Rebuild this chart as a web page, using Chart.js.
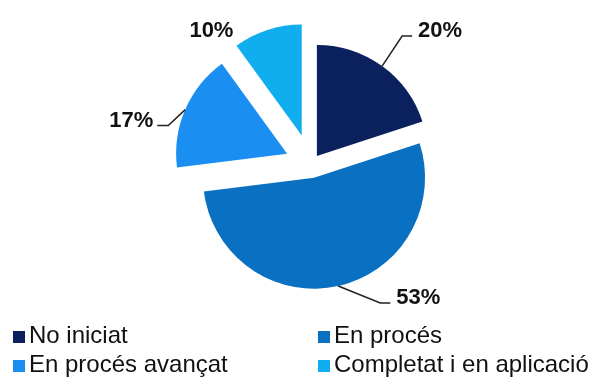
<!DOCTYPE html>
<html>
<head>
<meta charset="utf-8">
<script src="https://cdn.jsdelivr.net/npm/chart.js@4.4.1/dist/chart.umd.min.js"></script>
<style>
  html, body { margin: 0; padding: 0; background: #fff; }
  #wrap { position: relative; width: 592px; height: 381px; overflow: hidden; }
  #chart { position: absolute; left: 0; top: 0; }
  #legend {
    position: absolute; left: 13px; top: 320px;
    display: grid; grid-template-columns: 305px auto;
    font: 24px "Liberation Sans", Arial, sans-serif; line-height: 29px; color: #111;
    white-space: nowrap;
  }
  #legend .sw { display: inline-block; width: 12px; height: 12px; margin-right: 4px; }
</style>
</head>
<body>
<div id="wrap">
  <canvas id="chart" width="592" height="381"></canvas>
  <div id="legend"></div>
</div>
<script>
// chart data
const categories = ['No iniciat', 'En procés', 'En procés avançat', 'Completat i en aplicació'];
const shares = [20, 53, 17, 10];
const sliceColors = ['#0b215e', '#0a70c2', '#1b8ef2', '#10aeee'];

// how far each slice is pulled out of the pie (px)
const explode = [10, 14, 26, 30];

// leader line / label placement relative to the slice's outer edge
const labelLayout = [
  { elbow: [20, -30], end: [30, -30], align: 'left' },
  { elbow: [42, 17], end: [52, 17], align: 'left' },
  { elbow: [-17, 16], end: [-28, 16], align: 'right' },
  { elbow: null, end: [-34, 6], align: 'right' }
];

const explodePlugin = {
  id: 'explode',
  afterDatasetUpdate(chart, args) {
    args.meta.data.forEach((arc, i) => {
      const mid = (arc.startAngle + arc.endAngle) / 2;
      arc.x += explode[i] * Math.cos(mid);
      arc.y += explode[i] * Math.sin(mid);
    });
  }
};

const labelPlugin = {
  id: 'pieLabels',
  afterDatasetsDraw(chart) {
    const ctx = chart.ctx;
    const arcs = chart.getDatasetMeta(0).data;
    ctx.save();
    ctx.font = 'bold 22px "Liberation Sans", Arial, sans-serif';
    ctx.fillStyle = '#111';
    ctx.strokeStyle = '#222';
    ctx.lineWidth = 1.5;
    ctx.textBaseline = 'alphabetic';
    arcs.forEach((arc, i) => {
      const mid = (arc.startAngle + arc.endAngle) / 2;
      const ox = arc.x + arc.outerRadius * Math.cos(mid);
      const oy = arc.y + arc.outerRadius * Math.sin(mid);
      const lay = labelLayout[i];
      const ex = ox + lay.end[0], ey = oy + lay.end[1];
      if (lay.elbow) {
        ctx.beginPath();
        ctx.moveTo(ox, oy);
        ctx.lineTo(ox + lay.elbow[0], oy + lay.elbow[1]);
        ctx.lineTo(ex, ey);
        ctx.stroke();
      }
      const txt = shares[i] + '%';
      if (lay.align === 'left') {
        ctx.textAlign = 'left';
        ctx.fillText(txt, ex + (lay.elbow ? 6 : 0), ey + 1);
      } else {
        ctx.textAlign = 'right';
        ctx.fillText(txt, ex - (lay.elbow ? 4 : 0), ey + 1);
      }
    });
    ctx.restore();
  }
};

new Chart(document.getElementById('chart'), {
  type: 'pie',
  data: {
    labels: categories,
    datasets: [{
      data: shares,
      backgroundColor: sliceColors,
      borderWidth: 0
    }]
  },
  options: {
    responsive: false,
    animation: false,
    radius: 111,
    layout: { padding: { left: 30, right: 0, top: 0, bottom: 53 } },
    plugins: {
      legend: { display: false },
      tooltip: { enabled: false }
    }
  },
  plugins: [explodePlugin, labelPlugin]
});

// two-column legend under the pie
const legend = document.getElementById('legend');
categories.forEach((name, i) => {
  const item = document.createElement('div');
  item.innerHTML = '<span class="sw" style="background:' + sliceColors[i] + '"></span>' + name;
  legend.appendChild(item);
});
</script>
</body>
</html>
